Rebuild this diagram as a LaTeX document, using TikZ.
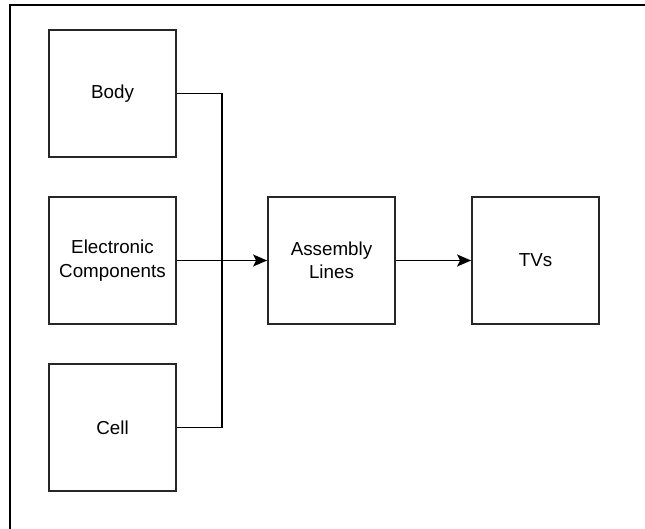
\documentclass[tikz,border=0pt]{standalone}
\usepackage{fontspec}
\setmainfont{Liberation Sans}
\usetikzlibrary{arrows.meta}
\begin{document}
\begin{tikzpicture}[x=1pt,y=-1pt,
  blk/.style={draw=black!85, line width=1.8pt, minimum width=127pt, minimum height=127pt, inner sep=0pt, align=center, font=\fontsize{18.8}{23.5}\selectfont},
  conn/.style={draw=black, line width=1.8pt},
  arr/.style={conn, -{Stealth[length=14pt,width=12pt,inset=3pt]}}]
\useasboundingbox (0,0) rectangle (645,529);
\draw[line width=1.5pt] (10,529) -- (10,5) -- (645,5);
\node[blk] (body) at (112.5,93.5) {Body};
\node[blk] (elec) at (112.5,260.5) {Electronic\\Components};
\node[blk] (cell) at (112.5,427.5) {Cell};
\node[blk] (asm) at (331.5,260.5) {Assembly\\Lines};
\node[blk] (tv) at (535.5,260.5) {TVs};
\coordinate (bt) at (222,93.5);
\coordinate (bb) at (222,427.5);
\draw[conn] (body.east) -- (bt) -- (bb) -- (cell.east);
\draw[arr] (elec.east) -- (asm.west);
\draw[arr] (asm.east) -- (tv.west);
\end{tikzpicture}
\end{document}
